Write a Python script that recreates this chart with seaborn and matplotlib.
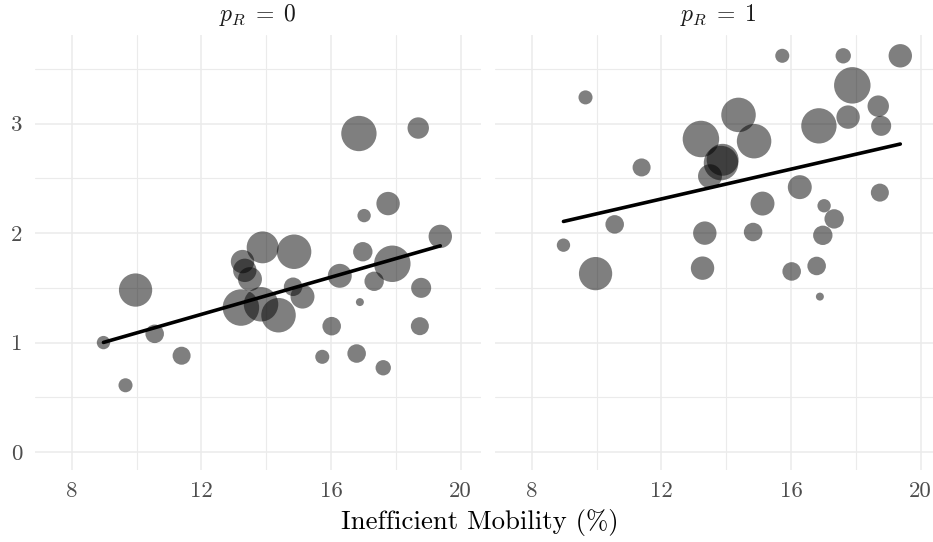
import numpy as np
import pandas as pd
import matplotlib
matplotlib.use("Agg")
import matplotlib.pyplot as plt
from matplotlib.ticker import MultipleLocator
import seaborn as sns

# Inefficient mobility (%) per region, region population (millions),
# and the outcome under the two policy settings p_R = 0 and p_R = 1.
mobility = [8.98, 9.66, 9.97, 10.56, 11.39, 13.22, 13.27, 13.34, 13.50, 13.84,
            13.89, 14.38, 14.83, 14.86, 15.12, 15.73, 16.02, 16.27, 16.79, 16.86,
            16.89, 16.98, 17.02, 17.33, 17.61, 17.76, 17.89, 18.69, 18.74, 18.78,
            19.37]
population = [2.8, 3.1, 17.4, 5.4, 5.1, 20.9, 8.6, 8.6, 9.0, 18.7,
              16.0, 18.7, 5.4, 18.7, 9.0, 3.1, 5.4, 9.0, 5.4, 19.6,
              1.0, 5.9, 2.8, 5.9, 3.7, 8.6, 20.9, 7.2, 5.1, 6.3,
              8.6]
outcome_p0 = [1.00, 0.61, 1.48, 1.08, 0.88, 1.32, 1.74, 1.66, 1.58, 1.35,
              1.87, 1.25, 1.51, 1.83, 1.42, 0.87, 1.15, 1.61, 0.90, 2.91,
              1.37, 1.83, 2.16, 1.56, 0.77, 2.27, 1.72, 2.96, 1.15, 1.50,
              1.97]
outcome_p1 = [1.89, 3.24, 1.63, 2.08, 2.60, 2.86, 1.68, 2.00, 2.52, 2.64,
              2.67, 3.08, 2.01, 2.84, 2.27, 3.62, 1.65, 2.42, 1.70, 2.98,
              1.42, 1.98, 2.25, 2.13, 3.62, 3.06, 3.35, 3.16, 2.37, 2.98,
              3.62]
panel_labels = [r"$p_R\;=\;0$", r"$p_R\;=\;1$"]
x_ticks = [8, 12, 16, 20]
y_ticks = [0, 1, 2, 3]

df = pd.concat([
    pd.DataFrame({"mobility": mobility, "population": population,
                  "outcome": ys, "panel": lab})
    for ys, lab in zip([outcome_p0, outcome_p1], panel_labels)
], ignore_index=True)

sns.set_theme(style="white")
plt.rcParams["font.family"] = ["serif"]
plt.rcParams["font.serif"] = ["cmr10", "DejaVu Serif"]
plt.rcParams["mathtext.fontset"] = "cm"
plt.rcParams["axes.unicode_minus"] = False

W, H = 933, 542
fig = plt.figure(figsize=(W / 100, H / 100), dpi=100)

panel_px = [(35, 481), (495, 941)]
top_px, bot_px = 35, 470
grid_col = "#EBEBEB"
pop_min, pop_max = min(population), max(population)

for i, (lab, (x0, x1)) in enumerate(zip(panel_labels, panel_px)):
    ax = fig.add_axes([x0 / W, (H - bot_px) / H, (x1 - x0) / W, (bot_px - top_px) / H])
    sub = df[df["panel"] == lab]
    sns.scatterplot(data=sub, x="mobility", y="outcome", size="population",
                    sizes=(1.0 * 33, 20.9 * 33), size_norm=(pop_min, pop_max),
                    color="black", alpha=0.5, linewidth=0, legend=False, ax=ax,
                    zorder=3)
    # least-squares trend line over the observed range
    sns.regplot(data=sub, x="mobility", y="outcome", scatter=False, ci=None,
                color="black", line_kws={"linewidth": 2.6, "zorder": 4}, ax=ax)

    ax.set_xlim(6.868, 20.626)
    ax.set_ylim(-0.164, 3.81)
    ax.set_xticks(x_ticks)
    ax.set_yticks(y_ticks)
    ax.xaxis.set_minor_locator(MultipleLocator(2))
    ax.yaxis.set_minor_locator(MultipleLocator(0.5))
    ax.grid(True, which="major", color=grid_col, linewidth=1.1)
    ax.grid(True, which="minor", color=grid_col, linewidth=0.8)
    ax.set_axisbelow(True)
    for s in ax.spines.values():
        s.set_visible(False)
    ax.tick_params(which="both", length=0)
    ax.tick_params(axis="x", labelsize=16.5, labelcolor="#4D4D4D", pad=8)
    ax.tick_params(axis="y", labelsize=16.5, labelcolor="#4D4D4D", pad=9)
    if i == 1:
        ax.tick_params(axis="y", labelleft=False)
    ax.set_xlabel("")
    ax.set_ylabel("")
    ax.set_title(lab, fontsize=17, pad=10, color="#1A1A1A")

fig.text(480 / W, 1 - 522 / H, "Inefficient Mobility (%)", ha="center",
         va="center", fontsize=19.3, color="black")

fig.savefig("out.png", dpi=100)
